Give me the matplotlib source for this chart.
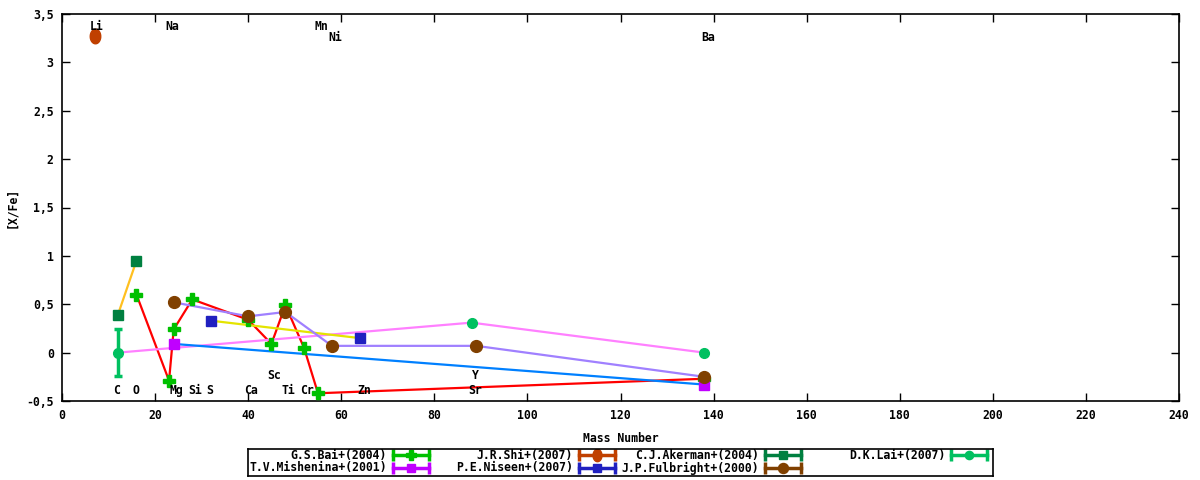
import numpy as np
import matplotlib
matplotlib.use('Agg')
import matplotlib.pyplot as plt
from matplotlib.ticker import FuncFormatter

# mass numbers and [X/Fe] for each study
bai_x = [16, 23, 24, 28, 40, 45, 48, 52, 55, 138]
bai_y = [0.60, -0.29, 0.24, 0.55, 0.34, 0.09, 0.49, 0.05, -0.42, -0.27]
shi_x = [7]
shi_y = [3.27]
akerman_x = [12, 16]
akerman_y = [0.39, 0.95]
lai_x = [12, 88, 138]
lai_y = [0.0, 0.31, 0.0]
lai_err = [0.24, 0.0, 0.0]
mishenina_x = [24, 138]
mishenina_y = [0.09, -0.33]
niseen_x = [32, 64]
niseen_y = [0.33, 0.15]
fulbright_x = [24, 40, 48, 58, 89, 138]
fulbright_y = [0.52, 0.375, 0.42, 0.07, 0.07, -0.25]

# element labels
elem_names = ['Li', 'Na', 'Mn', 'Ni', 'Ba', 'C', 'O', 'Mg', 'Si', 'S', 'Ca',
              'Sc', 'Ti', 'Cr', 'Zn', 'Y', 'Sr']
elem_x = [7.5, 23.7, 55.7, 58.7, 138.9, 11.8, 15.9, 24.6, 28.6, 31.8, 40.6,
          45.6, 48.6, 52.7, 64.9, 88.8, 88.8]
elem_y = [3.37, 3.37, 3.37, 3.26, 3.26, -0.39, -0.39, -0.39, -0.39, -0.39, -0.39,
          -0.235, -0.39, -0.39, -0.39, -0.235, -0.39]

FONT = 'DejaVu Sans Mono'
FS = 8.3

# tall oval marker (gnuplot point with tiny error bar look)
t = np.linspace(0, 2 * np.pi, 40)
oval = np.column_stack([0.72 * np.cos(t), np.sin(t)])

fig = plt.figure(figsize=(12, 4.8), dpi=100)
W, H = 1200, 480
ax = fig.add_axes([62 / W, 1 - 401 / H, (1179 - 62) / W, (401 - 14) / H])

# connecting lines (drawn underneath)
ax.plot(bai_x, bai_y, color='#ff0000', lw=1.6, zorder=2)
ax.plot(akerman_x, akerman_y, color='#ffc020', lw=1.6, zorder=2)
ax.plot(lai_x, lai_y, color='#ff80ff', lw=1.6, zorder=2)
ax.plot(mishenina_x, mishenina_y, color='#0080ff', lw=1.6, zorder=2)
ax.plot(niseen_x, niseen_y, color='#e4e400', lw=1.6, zorder=2)
ax.plot(fulbright_x, fulbright_y, color='#a080ff', lw=1.6, zorder=2)

series = [
    ('G.S.Bai+(2004)', bai_x, bai_y, None, '#00c000', 'P', 8.5),
    ('J.R.Shi+(2007)', shi_x, shi_y, None, '#c04000', oval, 10.5),
    ('C.J.Akerman+(2004)', akerman_x, akerman_y, None, '#008040', 's', 7.5),
    ('D.K.Lai+(2007)', lai_x, lai_y, lai_err, '#00c060', 'o', 7),
    ('T.V.Mishenina+(2001)', mishenina_x, mishenina_y, None, '#c000ff', 's', 7),
    ('P.E.Niseen+(2007)', niseen_x, niseen_y, None, '#2020c0', 's', 7.5),
    ('J.P.Fulbright+(2000)', fulbright_x, fulbright_y, None, '#804000', 'o', 8.5),
]
for name, xs, ys, err, col, mk, ms in series:
    ax.errorbar(xs, ys, yerr=err, fmt='none', ecolor=col,
                elinewidth=2.5, capsize=3, capthick=2.5, zorder=3)
    ax.plot(xs, ys, ls='none', marker=mk, color=col, ms=ms, mec=col, zorder=3)

for txt, x, y in zip(elem_names, elem_x, elem_y):
    ax.text(x, y, txt, ha='center', va='center', family=FONT, fontsize=FS,
            fontweight='bold', zorder=4)

ax.set_xlim(0, 240)
ax.set_ylim(-0.5, 3.5)
ax.set_xticks(np.arange(0, 241, 20))
ax.set_yticks(np.arange(-0.5, 3.51, 0.5))
ax.yaxis.set_major_formatter(FuncFormatter(lambda v, p: f'{v:g}'.replace('.', ',')))
ax.tick_params(direction='in', length=6, width=1, top=True, right=True,
               labelsize=FS, pad=6)
for lab in ax.get_xticklabels() + ax.get_yticklabels():
    lab.set_family(FONT)
    lab.set_fontweight('bold')
for s in ax.spines.values():
    s.set_linewidth(1.2)
ax.set_xlabel('Mass Number', family=FONT, fontsize=FS, fontweight='bold', labelpad=7)
ax.set_ylabel('[X/Fe]', family=FONT, fontsize=FS, fontweight='bold', labelpad=6)

# legend box at the bottom, in pixel coords
lax = fig.add_axes([248 / W, 1 - 476 / H, (993 - 248) / W, (476 - 449) / H])
lax.set_xlim(248, 993)
lax.set_ylim(476, 449)
lax.set_xticks([])
lax.set_yticks([])
for s in lax.spines.values():
    s.set_linewidth(1.2)
col_end = [387, 573, 759, 945]
row_y = [455.5, 468]
for i, (name, xs, ys, err, col, mk, ms) in enumerate(series):
    r, c = divmod(i, 4)
    xe, yy = col_end[c], row_y[r]
    lax.text(xe, yy, name, ha='right', va='center', family=FONT, fontsize=FS,
             fontweight='bold')
    lax.plot([xe + 6, xe + 42], [yy, yy], color=col, lw=2.5)
    lax.plot([xe + 6, xe + 42], [yy, yy], ls='none', marker='|', ms=8, mew=2.5, color=col)
    lax.plot([xe + 24], [yy], ls='none', marker=mk, ms=ms * 0.85, color=col)

fig.savefig('out.png', dpi=100)
